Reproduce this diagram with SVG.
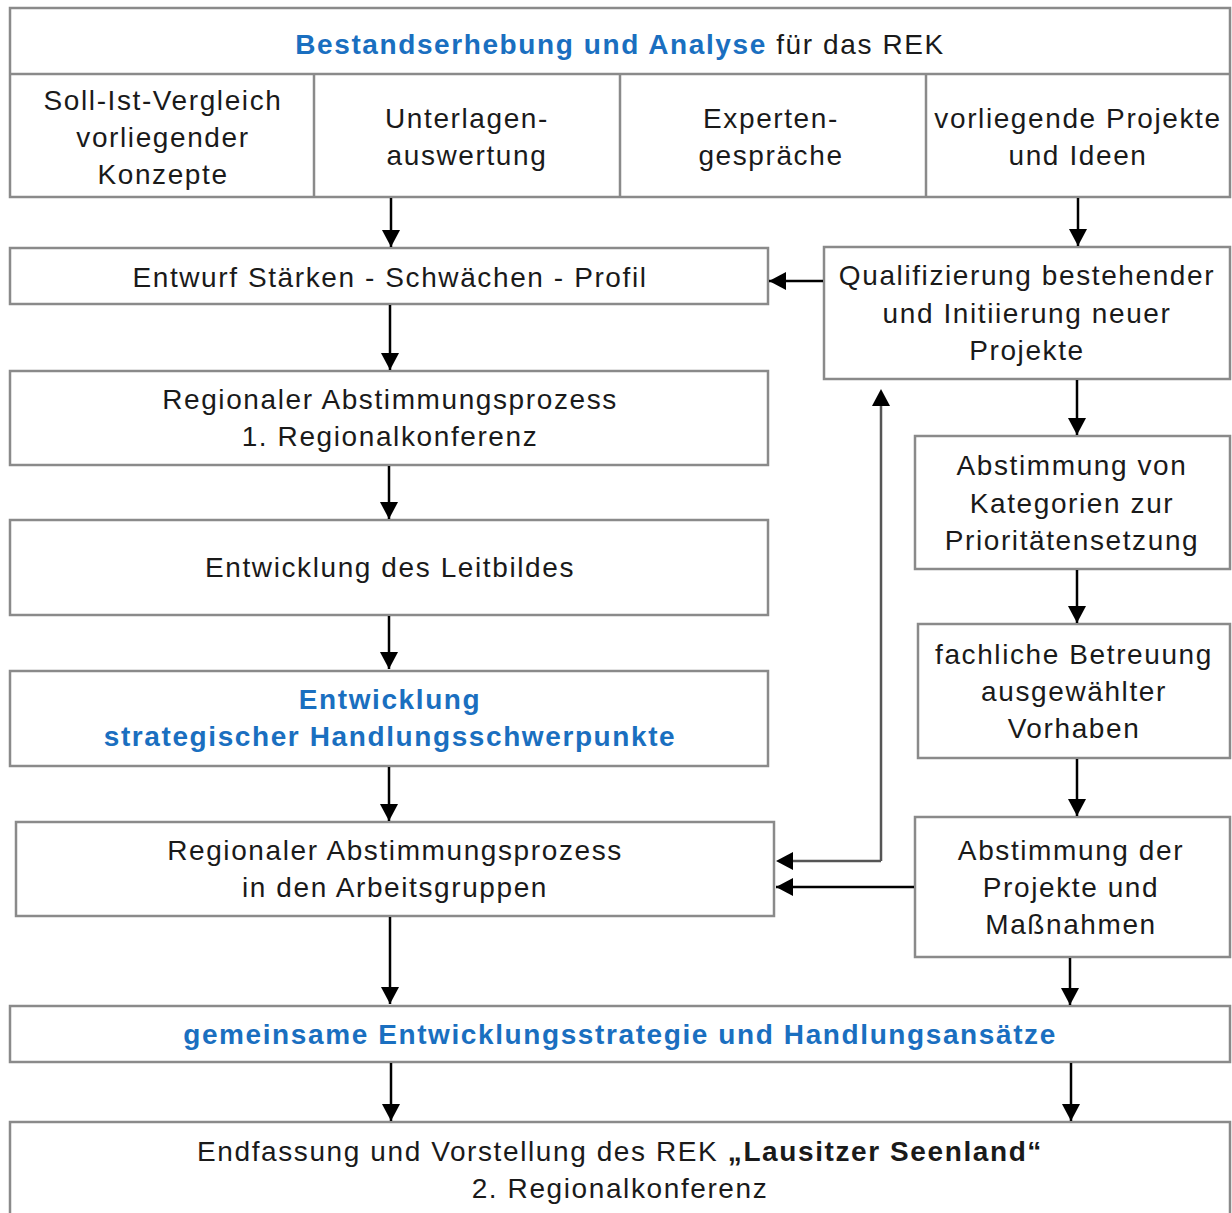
<svg xmlns="http://www.w3.org/2000/svg" width="1232" height="1213" viewBox="0 0 1232 1213">
<style>
.box{fill:#fff;stroke:#8a8a8a;stroke-width:2.5}
.t{font-family:"Liberation Sans",Arial,sans-serif;font-size:28px;letter-spacing:1.6px;fill:#1a1a1a;text-anchor:middle}
.b{font-weight:bold;fill:#1a6fc0}
.k{font-weight:bold;fill:#1a1a1a}
.c{stroke:#000;stroke-width:2.5;fill:none}
.cg{stroke:#555;stroke-width:2.5;fill:none}
</style>
<defs>
<marker id="ah" markerWidth="17" markerHeight="18" refX="17" refY="9" orient="auto" markerUnits="userSpaceOnUse" viewBox="0 0 17 18">
<path d="M0,0 L17,9 L0,18 Z" fill="#000"/>
</marker>
</defs>
<rect width="1232" height="1213" fill="#fff"/>
<g id="top">
<rect class="box" x="10" y="8" width="1220" height="189"/>
<line class="box" x1="10" y1="74" x2="1230" y2="74"/>
<line class="box" x1="314" y1="74" x2="314" y2="197"/>
<line class="box" x1="620" y1="74" x2="620" y2="197"/>
<line class="box" x1="926" y1="74" x2="926" y2="197"/>
<text class="t" x="620" y="54"><tspan class="b">Bestandserhebung und Analyse</tspan> für das REK</text>
<text class="t" x="163" y="110">Soll-Ist-Vergleich</text>
<text class="t" x="163" y="147">vorliegender</text>
<text class="t" x="163" y="184">Konzepte</text>
<text class="t" x="467" y="128">Unterlagen-</text>
<text class="t" x="467" y="165">auswertung</text>
<text class="t" x="771" y="128">Experten-</text>
<text class="t" x="771" y="165">gespräche</text>
<text class="t" x="1078" y="128">vorliegende Projekte</text>
<text class="t" x="1078" y="165">und Ideen</text>
</g>
<g id="entwurf">
<rect class="box" x="10" y="248" width="758" height="56"/>
<text class="t" x="390" y="287">Entwurf Stärken - Schwächen - Profil</text>
</g>
<g id="qualifizierung">
<rect class="box" x="824" y="247" width="406" height="132"/>
<text class="t" x="1027" y="285">Qualifizierung bestehender</text>
<text class="t" x="1027" y="323">und Initiierung neuer</text>
<text class="t" x="1027" y="360">Projekte</text>
</g>
<g id="regional1">
<rect class="box" x="10" y="371" width="758" height="94"/>
<text class="t" x="390" y="409">Regionaler Abstimmungsprozess</text>
<text class="t" x="390" y="446">1. Regionalkonferenz</text>
</g>
<g id="leitbild">
<rect class="box" x="10" y="520" width="758" height="95"/>
<text class="t" x="390" y="577">Entwicklung des Leitbildes</text>
</g>
<g id="strategisch">
<rect class="box" x="10" y="671" width="758" height="95"/>
<text class="t b" x="390" y="709">Entwicklung</text>
<text class="t b" x="390" y="746">strategischer Handlungsschwerpunkte</text>
</g>
<g id="regionalAG">
<rect class="box" x="16" y="822" width="758" height="94"/>
<text class="t" x="395" y="860">Regionaler Abstimmungsprozess</text>
<text class="t" x="395" y="897">in den Arbeitsgruppen</text>
</g>
<g id="kategorien">
<rect class="box" x="915" y="436" width="315" height="133"/>
<text class="t" x="1072" y="475">Abstimmung  von</text>
<text class="t" x="1072" y="513">Kategorien zur</text>
<text class="t" x="1072" y="550">Prioritätensetzung</text>
</g>
<g id="betreuung">
<rect class="box" x="918" y="624" width="312" height="134"/>
<text class="t" x="1074" y="664">fachliche Betreuung</text>
<text class="t" x="1074" y="701">ausgewählter</text>
<text class="t" x="1074" y="738">Vorhaben</text>
</g>
<g id="projekte">
<rect class="box" x="915" y="817" width="315" height="140"/>
<text class="t" x="1071" y="860">Abstimmung  der</text>
<text class="t" x="1071" y="897">Projekte und</text>
<text class="t" x="1071" y="934">Maßnahmen</text>
</g>
<g id="strategie">
<rect class="box" x="10" y="1006" width="1220" height="56"/>
<text class="t b" x="620" y="1044">gemeinsame Entwicklungsstrategie und Handlungsansätze</text>
</g>
<g id="endfassung">
<rect class="box" x="10" y="1122" width="1220" height="100"/>
<text class="t" x="620" y="1161">Endfassung und Vorstellung des REK <tspan class="k">„Lausitzer Seenland“</tspan></text>
<text class="t" x="620" y="1198">2. Regionalkonferenz</text>
</g>
<g id="connectors">
<line class="c" x1="391" y1="198" x2="391" y2="247" marker-end="url(#ah)"/>
<line class="c" x1="1078" y1="198" x2="1078" y2="246" marker-end="url(#ah)"/>
<line class="c" x1="823" y1="281" x2="769" y2="281" marker-end="url(#ah)"/>
<line class="c" x1="390" y1="305" x2="390" y2="370" marker-end="url(#ah)"/>
<line class="c" x1="389" y1="466" x2="389" y2="519" marker-end="url(#ah)"/>
<line class="c" x1="389" y1="616" x2="389" y2="669" marker-end="url(#ah)"/>
<line class="c" x1="389" y1="767" x2="389" y2="821" marker-end="url(#ah)"/>
<line class="c" x1="390" y1="917" x2="390" y2="1004" marker-end="url(#ah)"/>
<line class="c" x1="391" y1="1063" x2="391" y2="1121" marker-end="url(#ah)"/>
<line class="c" x1="1071" y1="1063" x2="1071" y2="1121" marker-end="url(#ah)"/>
<line class="c" x1="1077" y1="380" x2="1077" y2="435" marker-end="url(#ah)"/>
<line class="c" x1="1077" y1="570" x2="1077" y2="623" marker-end="url(#ah)"/>
<line class="c" x1="1077" y1="759" x2="1077" y2="816" marker-end="url(#ah)"/>
<line class="c" x1="1070" y1="958" x2="1070" y2="1005" marker-end="url(#ah)"/>
<line class="c" x1="914" y1="887" x2="776" y2="887" marker-end="url(#ah)"/>
<path class="cg" d="M881,861 L881,400"/>
<path d="M872,406 L881,389 L890,406 Z" fill="#000"/>
<path class="cg" d="M881,861 L788,861"/>
<path d="M793,852 L776,861 L793,870 Z" fill="#000"/>
</g>
</svg>
